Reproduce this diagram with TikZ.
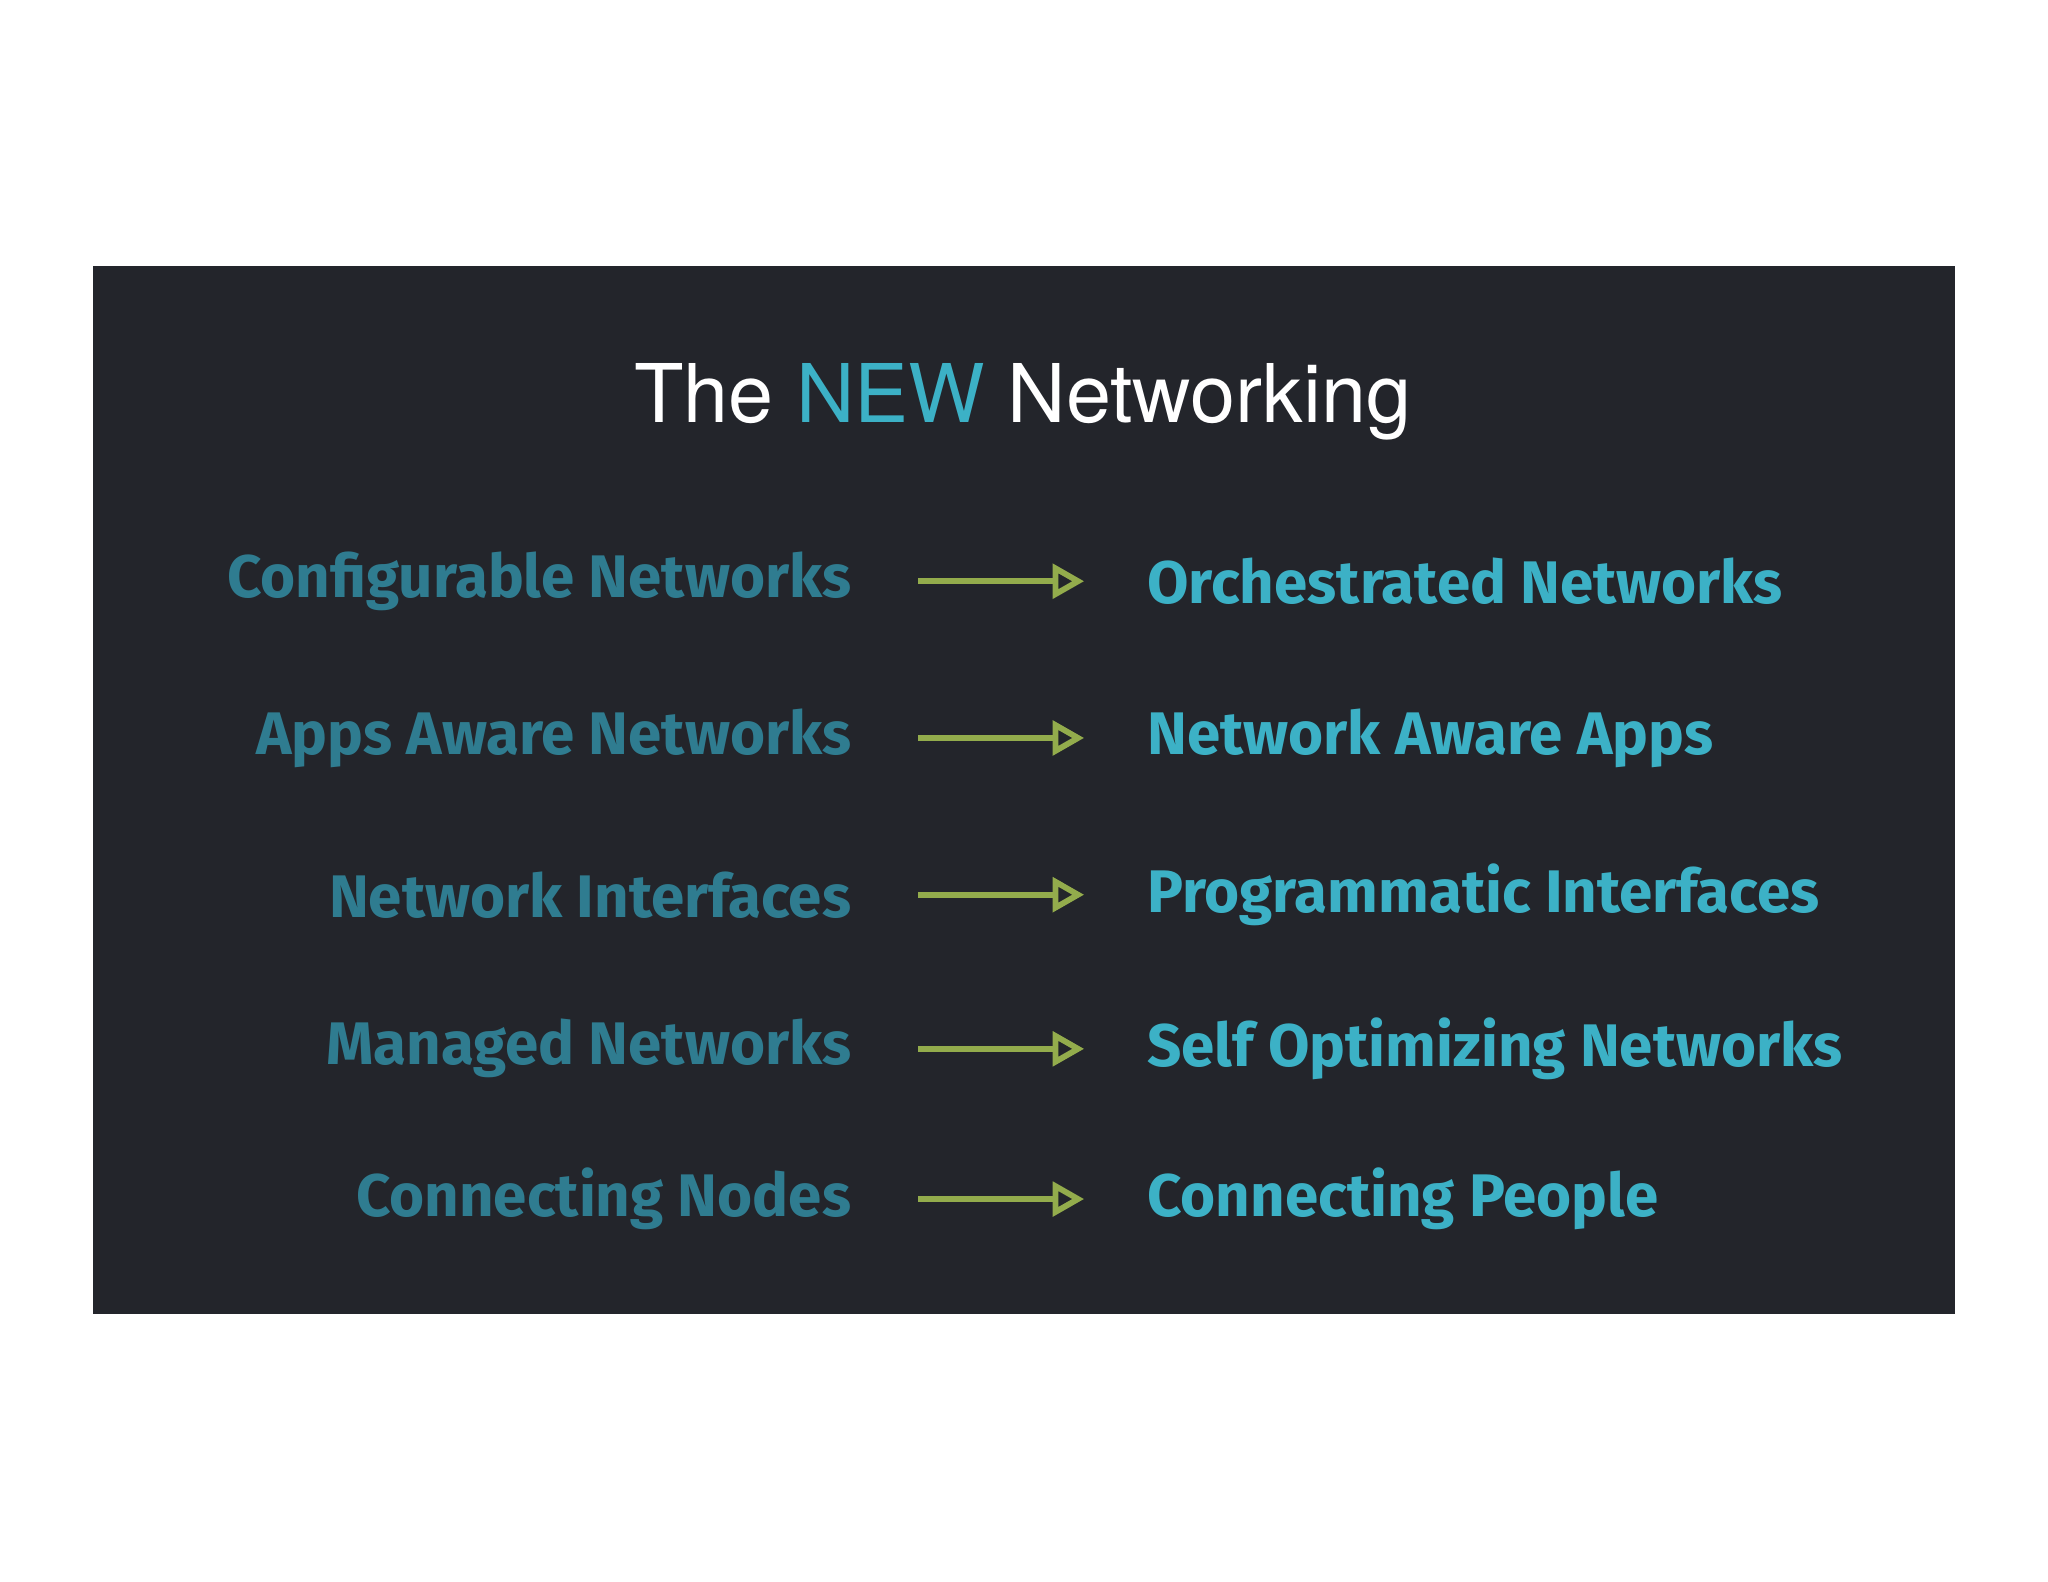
\documentclass[tikz,border=0pt]{standalone}
\usepackage{fontspec}
\setmainfont{Fira Sans}
\newfontfamily\titlefont{TeX Gyre Heros}
\definecolor{bg}{HTML}{23252B}
\definecolor{lteal}{HTML}{2F7C90}
\definecolor{rteal}{HTML}{3CB1C6}
\definecolor{agreen}{HTML}{93AC4C}
\usetikzlibrary{arrows.meta}
\begin{document}
\begin{tikzpicture}[x=0.5pt,y=-0.5pt,
  lt/.style={anchor=east,inner sep=0pt,text=lteal,font=\fontsize{23}{27}\selectfont\bfseries},
  rt/.style={anchor=west,inner sep=0pt,text=rteal,font=\fontsize{23}{27}\selectfont\bfseries},
  arr/.style={draw=agreen,line width=2.2pt,-{Triangle[open,length=12pt,width=13pt]}}]
\useasboundingbox (0,0) rectangle (1568,1211);
\fill[white] (0,0) rectangle (1568,1211);
\fill[bg] (71,204) rectangle (1497,1006);
\node[text=white,font=\titlefont\fontsize{31}{37}\selectfont] (title) at (783,308) {The \textcolor{rteal}{NEW} Networking};
\foreach \y/\l/\r [count=\i] in {445/Configurable Networks/Orchestrated Networks,
  565/Apps Aware Networks/Network Aware Apps,
  685/Network Interfaces/Programmatic Interfaces,
  803/Managed Networks/Self Optimizing Networks,
  918/Connecting Nodes/Connecting People}{
  \node[lt] (l\i) at (652,\y) {\l};
  \node[rt] (r\i) at (878,\y) {\r};
  \coordinate (a\i) at (703,\y);
  \coordinate (b\i) at (830,\y);
  \draw[arr] (a\i) -- (b\i);
}
\end{tikzpicture}
\end{document}
